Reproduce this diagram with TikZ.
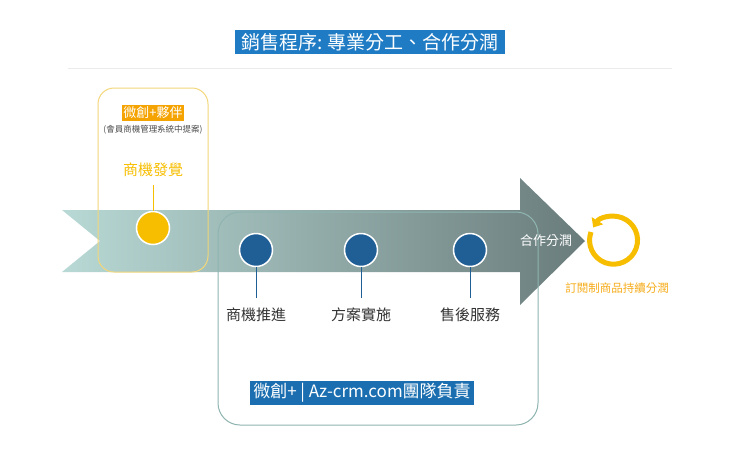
\documentclass[tikz,border=0pt]{standalone}
\usepackage{fontspec}
\setmainfont{Noto Sans CJK TC}
\usetikzlibrary{arrows.meta}
\definecolor{tblue}{HTML}{1E7BC4}
\definecolor{dblue}{HTML}{1F5F96}
\definecolor{yel}{HTML}{F7BE00}
\definecolor{ybox}{HTML}{F3D77A}
\definecolor{gbox}{HTML}{8FB5B0}
\definecolor{teal1}{HTML}{B8D9D5}
\definecolor{gray1}{HTML}{6A7C7C}
\definecolor{orng}{HTML}{F5A300}
\begin{document}
\begin{tikzpicture}[x=1pt,y=-1pt,
  dot/.style={circle,minimum size=33pt,draw=white,line width=1.5pt,inner sep=0pt},
  lbl/.style={font=\fontsize{15}{17}\selectfont,text=black!80},
  stem/.style={line width=0.8pt}]
\useasboundingbox[fill=white] (0,0) rectangle (740,448);
% title
\node[fill=tblue,text=white,font=\fontsize{19}{21}\selectfont,inner xsep=6pt,inner ysep=3pt] (title) at (370,42) {銷售程序: 專業分工、合作分潤};
\draw[black!8,line width=0.8pt] (68,68) -- (672,68);
% arrow
\shade[left color=teal1,right color=gray1]
  (62,210) -- (520,210) -- (520,178) -- (585,241) -- (520,305) -- (520,272) -- (62,272) -- (100,241) -- cycle;
% boxes
\draw[ybox,line width=1pt,rounded corners=16pt] (98,88) rectangle (208,272);
\draw[gbox,line width=1pt,rounded corners=22pt] (218,212) rectangle (538,425);
% yellow part
\node[fill=orng,text=white,font=\fontsize{13}{15}\selectfont,inner sep=1.5pt] (partner) at (153,113) {微創+夥伴};
\node[font=\fontsize{8.5}{10}\selectfont,text=black!70] (sub) at (153,130) {(會員商機管理系統中提案)};
\node[font=\fontsize{15}{17}\selectfont,text=yel] (find) at (153,170) {商機發覺};
\node[dot,fill=yel] (c0) at (153,228) {};
\coordinate (s0) at (153,185);
\draw[yel,stem] (s0) -- (c0);
% blue dots
\foreach \n/\x/\t in {1/256/商機推進,2/361/方案實施,3/470/售後服務}{
  \node[dot,fill=dblue] (c\n) at (\x,250) {};
  \node[lbl] (l\n) at (\x,315) {\t};
  \coordinate (e\n) at (\x,298);
  \draw[dblue,stem] (c\n) -- (e\n);
}
\node[text=white,font=\fontsize{13}{15}\selectfont] (share) at (546,241) {合作分潤};
% circular arrow
\draw[yel,line width=5pt,-{Triangle[length=8pt,width=13pt]}] (591,232) arc[start angle=200,end angle=-148,radius=24];
\node[text=orng!90,font=\fontsize{11.5}{13}\selectfont] (sub2) at (617,288) {訂閱制商品持續分潤};
% bottom label
\node[fill=tblue!90!black,text=white,font=\fontsize{17}{19}\selectfont,inner xsep=3pt,inner ysep=2pt] (team) at (362,393) {微創+ | Az-crm.com團隊負責};
\end{tikzpicture}
\end{document}
